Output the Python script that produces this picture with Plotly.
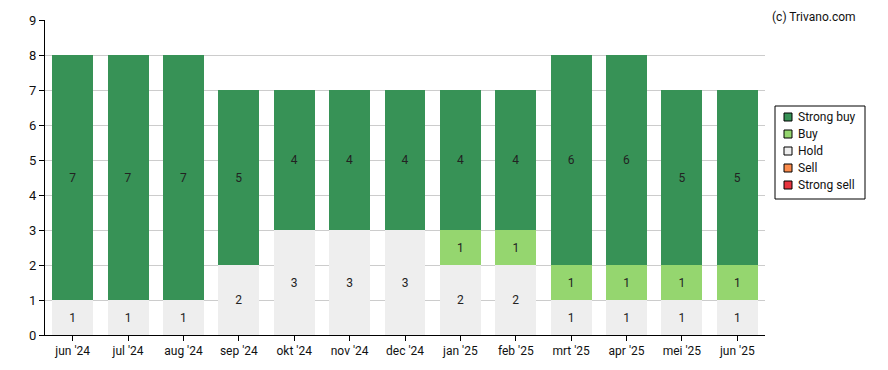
import plotly.graph_objects as go

months = ["jun '24", "jul '24", "aug '24", "sep '24", "okt '24", "nov '24", "dec '24",
          "jan '25", "feb '25", "mrt '25", "apr '25", "mei '25", "jun '25"]
strong_buy = [7, 7, 7, 5, 4, 4, 4, 4, 4, 6, 6, 5, 5]
buy = [0, 0, 0, 0, 0, 0, 0, 1, 1, 1, 1, 1, 1]
hold = [1, 1, 1, 2, 3, 3, 3, 2, 2, 1, 1, 1, 1]
sell = [0] * 13
strong_sell = [0] * 13

series = [
    ("Strong sell", strong_sell, "#e8343f"),
    ("Sell", sell, "#fb8c4c"),
    ("Hold", hold, "#eeeeee"),
    ("Buy", buy, "#95d66f"),
    ("Strong buy", strong_buy, "#379256"),
]

fig = go.Figure()
for name, vals, col in series:
    fig.add_trace(go.Bar(
        x=months, y=vals, name=name, marker=dict(color=col, line=dict(width=0)),
        text=[str(v) if v else "" for v in vals], textposition="inside",
        insidetextanchor="middle", textangle=0,
        textfont=dict(color="#222222", size=12, family="Roboto"),
        showlegend=False, hoverinfo="skip",
    ))

# plot area in page pixels: x 45..765, y 20..335 (page offset 8 by body margin)
def px(x):
    return (x - 45) / 720.0

def py(y):
    return (335 - y) / 315.0

shapes = [dict(type="rect", xref="paper", yref="paper",
               x0=px(775), x1=px(865), y0=py(199), y1=py(106),
               line=dict(color="black", width=1), fillcolor="white", layer="above")]
annotations = [dict(text="(c) Trivano.com", xref="paper", yref="paper",
                    x=1.129, y=1.0, xanchor="right", yanchor="bottom",
                    showarrow=False, font=dict(size=12), yshift=-6)]
for i, (name, vals, col) in enumerate(reversed(series)):
    cy = 117 + 17 * i
    shapes.append(dict(type="rect", xref="paper", yref="paper",
                       x0=px(784), x1=px(792), y0=py(cy + 4), y1=py(cy - 4),
                       line=dict(color="black", width=1), fillcolor=col, layer="above"))
    annotations.append(dict(text=name, xref="paper", yref="paper",
                            x=px(796), y=py(cy), xanchor="left", yanchor="middle",
                            showarrow=False, font=dict(size=12, color="#111111")))

fig.update_layout(
    width=880, height=362, barmode="stack", bargap=0.26,
    margin=dict(l=37, r=123, t=12, b=35, autoexpand=False),
    paper_bgcolor="white", plot_bgcolor="white",
    font=dict(family="Roboto", size=12, color="#111111"),
    uniformtext=dict(minsize=8, mode="show"),
    showlegend=False,
    xaxis=dict(showline=True, linecolor="black", linewidth=1, ticks="outside",
               ticklen=5, tickcolor="black", showgrid=False, tickfont=dict(size=12),
               automargin=False),
    yaxis=dict(range=[0, 9], dtick=1, showline=True, linecolor="black", linewidth=1,
               ticks="outside", ticklen=5, tickcolor="black", gridcolor="#cccccc",
               zeroline=False, tickfont=dict(size=13), automargin=False),
    shapes=shapes,
    annotations=annotations,
)

fig.write_html("out.html")
